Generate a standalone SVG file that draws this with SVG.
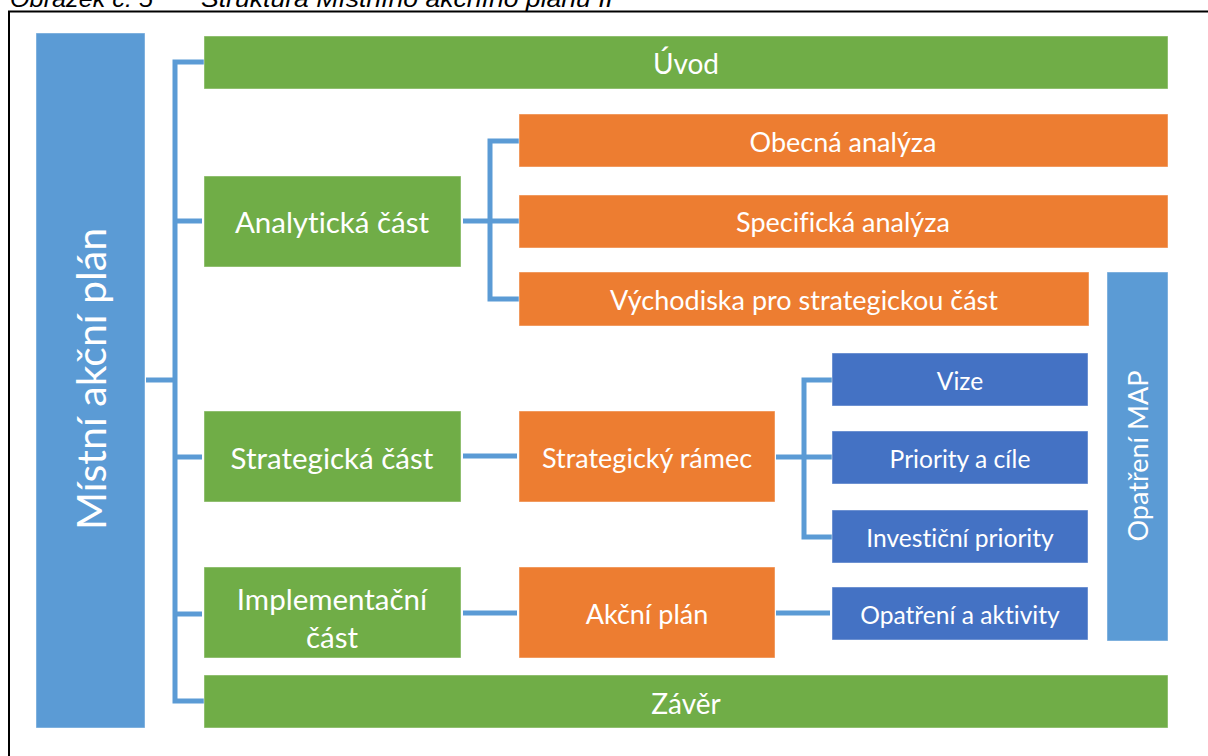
<svg xmlns="http://www.w3.org/2000/svg" width="1208" height="756" viewBox="0 0 1208 756">
<style>
  .box { stroke: #ffffff; stroke-opacity: 0.45; stroke-width: 1; }
  .g { fill: #70AD47; }
  .o { fill: #ED7D31; }
  .d { fill: #4472C4; }
  .l { fill: #5B9BD5; }
  .t { font-family: Lato, "Open Sans", sans-serif; fill: #ffffff; text-anchor: middle; dominant-baseline: central; font-variant-ligatures: none; }
  .t30 { font-size: 29.5px; }
  .t28 { font-size: 28px; }
  .t27 { font-size: 27px; }
  .t24 { font-size: 24.6px; }
  .cap { font-family: "Liberation Sans", Arial, sans-serif; font-style: italic; font-size: 24px; fill: #000000; }
  .con { fill: none; stroke: #5B9BD5; stroke-width: 5; stroke-linejoin: miter; stroke-linecap: butt; }
</style>
<rect x="0" y="0" width="1208" height="756" fill="#ffffff"/>
<text class="cap" x="10" y="7" textLength="143" lengthAdjust="spacingAndGlyphs">Obrázek č. 5</text>
<text class="cap" x="201" y="7" textLength="412" lengthAdjust="spacingAndGlyphs">Struktura Místního akčního plánu II</text>
<rect x="9" y="11.5" width="1210" height="760" fill="none" stroke="#000000" stroke-width="2"/>

<g id="connectors">
  <path class="con" d="M204,62 H175 V701 H204"/>
  <path class="con" d="M175,221 H202"/>
  <path class="con" d="M175,457 H202"/>
  <path class="con" d="M175,614 H202"/>
  <path class="con" d="M146,380 H175"/>
  <path class="con" d="M463,221 H490"/>
  <path class="con" d="M519,141 H490 V299 H519"/>
  <path class="con" d="M490,221 H519"/>
  <path class="con" d="M463,456 H517"/>
  <path class="con" d="M776,457 H804"/>
  <path class="con" d="M832,380 H804 V537 H832"/>
  <path class="con" d="M804,457 H832"/>
  <path class="con" d="M463,613 H517"/>
  <path class="con" d="M776,613 H830"/>
</g>

<g id="map">
  <rect class="box l" x="36" y="33" width="109" height="695"/>
  <text class="t" font-size="41" transform="translate(90,379) rotate(-90)" x="0" y="0">Místní akční plán</text>
</g>
<g id="uvod">
  <rect class="box g" x="204" y="36" width="964" height="53"/>
  <text class="t t28" x="686" y="63">Úvod</text>
</g>
<g id="analyticka">
  <rect class="box g" x="204" y="176" width="257" height="91"/>
  <text class="t t30" x="332" y="221">Analytická část</text>
</g>
<g id="obecna">
  <rect class="box o" x="519" y="114" width="649" height="53"/>
  <text class="t t27" x="843" y="141">Obecná analýza</text>
</g>
<g id="specificka">
  <rect class="box o" x="519" y="195" width="649" height="53"/>
  <text class="t t27" x="843" y="221">Specifická analýza</text>
</g>
<g id="vychodiska">
  <rect class="box o" x="519" y="272" width="570" height="54"/>
  <text class="t t27" x="804" y="299">Východiska pro strategickou část</text>
</g>
<g id="opatreni-map">
  <rect class="box l" x="1107" y="272" width="61" height="369"/>
  <text class="t" font-size="27" transform="translate(1137,456) rotate(-90)" x="0" y="0">Opatření MAP</text>
</g>
<g id="strategicka">
  <rect class="box g" x="204" y="411" width="257" height="91"/>
  <text class="t t30" x="332" y="457">Strategická část</text>
</g>
<g id="ramec">
  <rect class="box o" x="519" y="411" width="256" height="91"/>
  <text class="t t27" x="647" y="457">Strategický rámec</text>
</g>
<g id="vize">
  <rect class="box d" x="832" y="353" width="256" height="53"/>
  <text class="t t24" x="960" y="380">Vize</text>
</g>
<g id="priority">
  <rect class="box d" x="832" y="431" width="256" height="53"/>
  <text class="t t24" x="960" y="458">Priority a cíle</text>
</g>
<g id="investicni">
  <rect class="box d" x="832" y="510" width="256" height="53"/>
  <text class="t t24" x="960" y="537">Investiční priority</text>
</g>
<g id="implementacni">
  <rect class="box g" x="204" y="567" width="257" height="91"/>
  <text class="t t30" x="332" y="598">Implementační</text>
  <text class="t t30" x="332" y="636">část</text>
</g>
<g id="akcni">
  <rect class="box o" x="519" y="567" width="256" height="91"/>
  <text class="t t27" x="647" y="613">Akční plán</text>
</g>
<g id="aktivity">
  <rect class="box d" x="832" y="587" width="256" height="53"/>
  <text class="t t24" x="960" y="614">Opatření a aktivity</text>
</g>
<g id="zaver">
  <rect class="box g" x="204" y="675" width="964" height="53"/>
  <text class="t t28" x="686" y="703">Závěr</text>
</g>
</svg>
